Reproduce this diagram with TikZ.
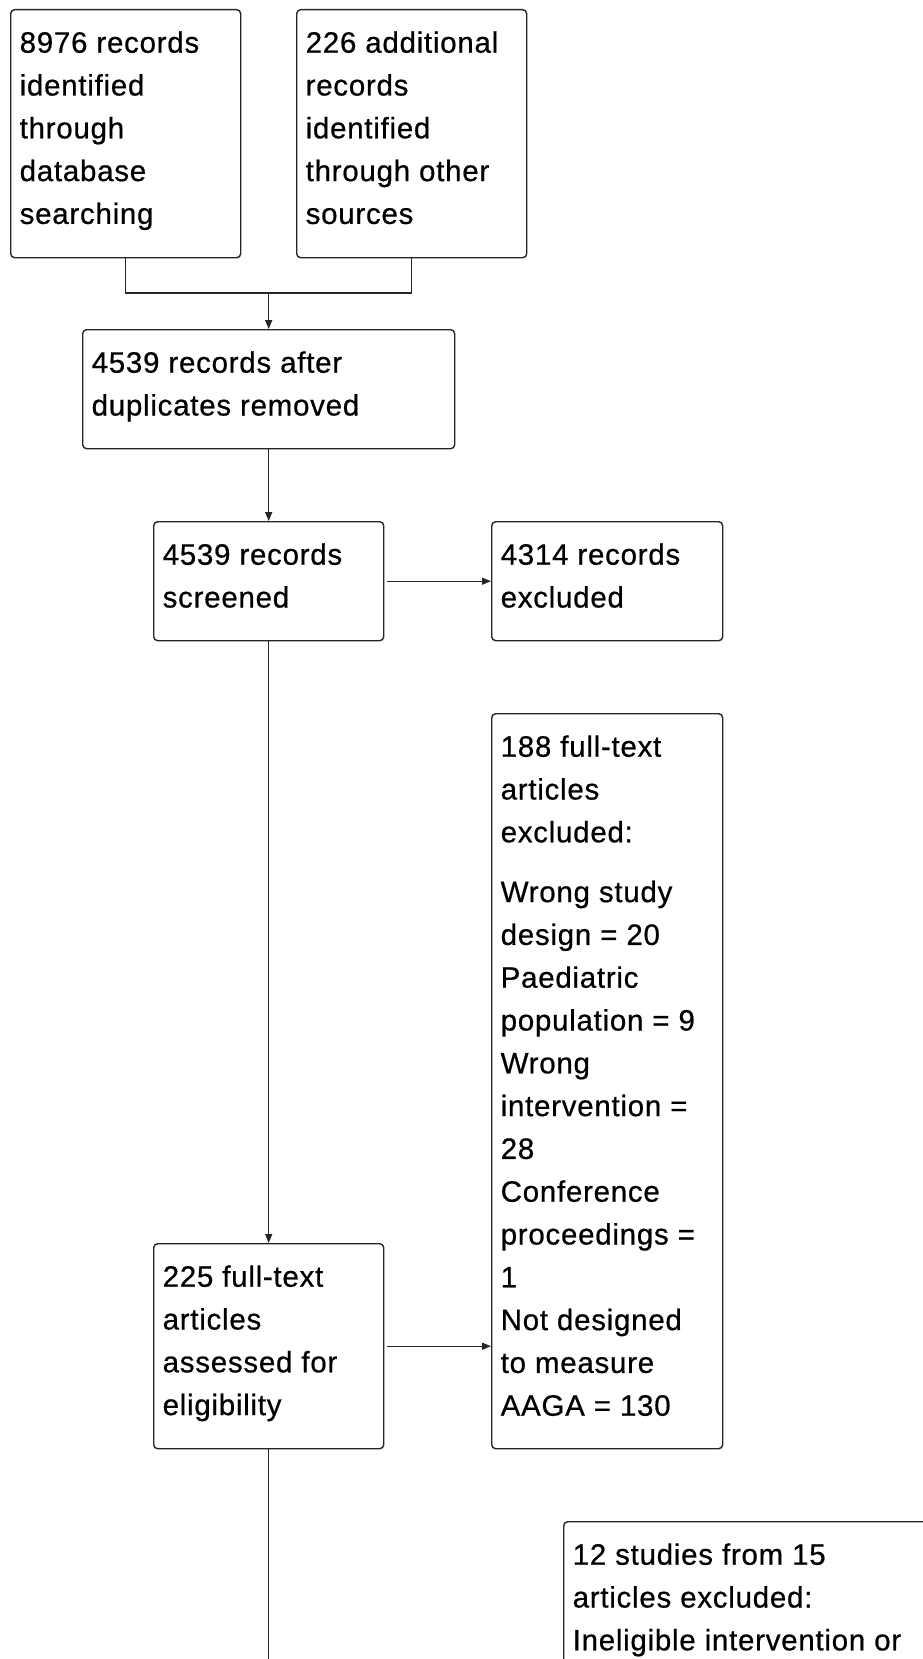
\documentclass[tikz,border=0pt]{standalone}
\usepackage{fontspec}
\setmainfont{Liberation Sans}[LetterSpace=2.5, FakeBold=0.6]
\usetikzlibrary{arrows.meta}
\usepackage{xcolor}
\definecolor{prline}{HTML}{262626}
\definecolor{prtext}{HTML}{000000}
\newcommand{\boxtext}[3]{\parbox[c][#1pt][t]{#2pt}{\raggedright\rule{0pt}{43pt}#3}}

\begin{document}
\begin{tikzpicture}[x=1pt, y=-1pt,
    font=\fontsize{29.5pt}{42.8pt}\selectfont,
    prbox/.style={draw=prline, line width=1.4pt, rounded corners=4pt,
          text=prtext, inner xsep=9pt, inner ysep=0pt, anchor=north west},
    prline/.style={draw=prline, line width=1.4pt},
    prarrow/.style={prline, -{Triangle[length=9pt, width=7pt]}}]
    \useasboundingbox (0,0) rectangle (923,1659);
    \fill[white] (0,0) rectangle (923,1659);
    \clip (0,0) rectangle (923,1659);

    \node[prbox] (dbrec) at (10,9)
          {\boxtext{248}{212}{8976 records\\identified\\through\\database\\searching}};
    \node[prbox] (otherrec) at (296,9)
          {\boxtext{248}{212}{226 additional\\records\\identified\\through other\\sources}};
    \node[prbox] (dedup) at (82,329)
          {\boxtext{119}{354}{4539 records after\\duplicates removed}};
    \node[prbox] (screened) at (153,521)
          {\boxtext{119}{212}{4539 records\\screened}};
    \node[prbox] (screenexcl) at (491,521)
          {\boxtext{119}{213}{4314 records\\excluded}};
    \node[prbox] (ftexcl) at (491,713)
          {\boxtext{735}{213}{188 full-text\\articles\\excluded:\\[17pt]Wrong study\\design = 20\\Paediatric\\population = 9\\Wrong\\intervention =\\28\\Conference\\proceedings =\\1\\Not designed\\to measure\\AAGA = 130}};
    \node[prbox] (fulltext) at (153,1243)
          {\boxtext{205}{212}{225 full-text\\articles\\assessed for\\eligibility}};
    \node[prbox] (studyexcl) at (563,1521)
          {\boxtext{250}{400}{12 studies from 15\\articles excluded:\\Ineligible intervention or}};

    \coordinate (merge) at (dedup.north |- 0,293);
    \coordinate (down) at (fulltext.south |- 0,1700);
    \draw[prline] (dbrec.south) |- (merge) -| (otherrec.south);
    \draw[prarrow] (merge) -- (dedup.north);
    \draw[prarrow] (dedup.south) -- (screened.north);
    \draw[prarrow, shorten <=3pt] (screened.east) -- (screenexcl.west);
    \draw[prarrow] (screened.south) -- (fulltext.north);
    \draw[prarrow, shorten <=3pt] (fulltext.east) -- (fulltext.east -| ftexcl.west);
    \draw[prline] (fulltext.south) -- (down);
  \end{tikzpicture}
\end{document}
